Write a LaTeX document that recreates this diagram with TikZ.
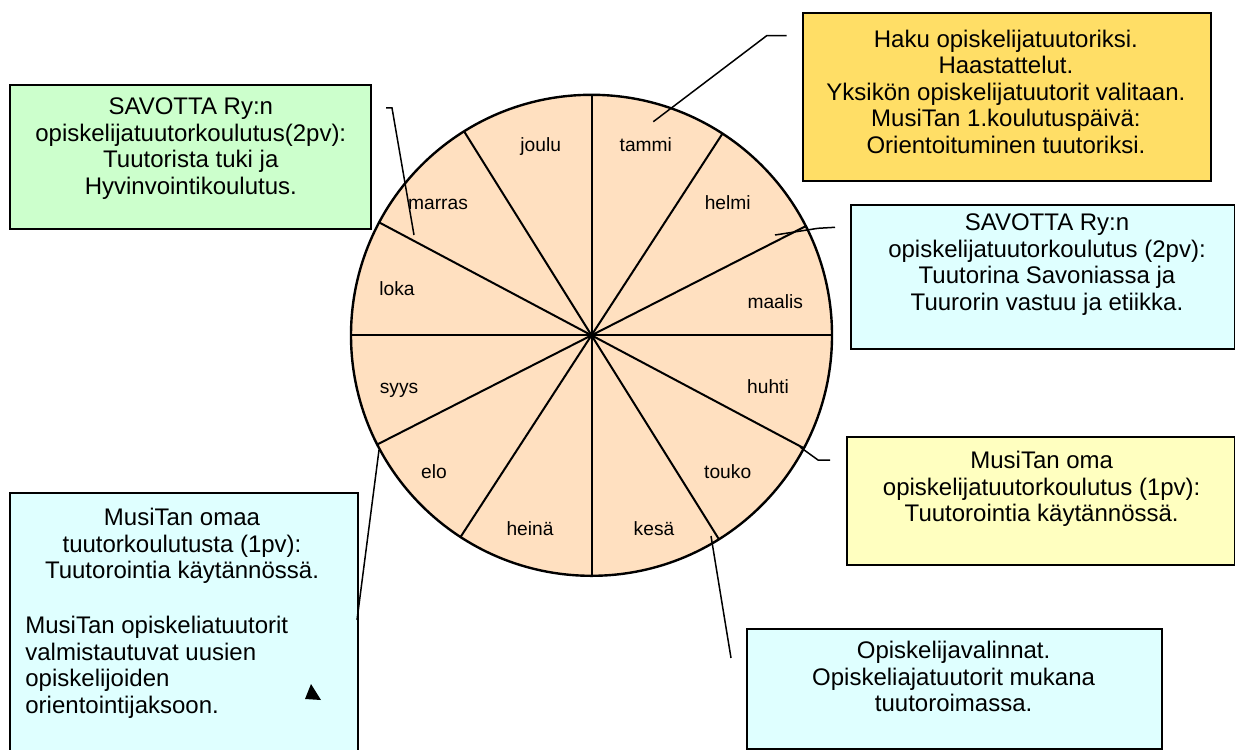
\documentclass[tikz,border=0pt]{standalone}
\usepackage{fontspec}
\setmainfont{Liberation Sans}
\definecolor{peach}{RGB}{255,224,192}
\definecolor{gold}{RGB}{255,222,102}
\definecolor{lightcyan}{RGB}{223,255,255}
\definecolor{lightgreen}{RGB}{204,255,204}
\definecolor{paleyellow}{RGB}{255,255,192}
\tikzset{
  month/.style={anchor=base, inner sep=0pt, font={\fontsize{9.6pt}{11pt}\selectfont}},
  infobox/.style={rectangle, draw, line width=1pt, anchor=north west, inner sep=0pt},
  infotext/.style={anchor=north, align=center, inner sep=0pt, font={\fontsize{12pt}{13.25pt}\selectfont}},
  leader/.style={line width=0.75pt}
}
\begin{document}
\begin{tikzpicture}[x=0.5pt, y=-0.5pt]
  \useasboundingbox (0,0) rectangle (1235,749);
  % Wheel
  \node (year) [circle, draw, line width=1.2pt, fill=peach, minimum size=240.5pt, inner sep=0pt, outer sep=0pt] at (591.5,335.3) {};
  \draw[line width=1pt] (year.90) -- (year.270);
  \draw[line width=1pt] (year.57.3) -- (year.237.3);
  \draw[line width=1pt] (year.27.9) -- (year.207.9);
  \draw[line width=1pt] (year.0) -- (year.180);
  \draw[line width=1pt] (year.152.1) -- (year.332.1);
  \draw[line width=1pt] (year.122.7) -- (year.302.7);
  % Months
  \node (joulu) [month] at (540.7,151.7) {joulu};
  \node (tammi) [month] at (645.8,151.7) {tammi};
  \node (helmi) [month] at (727.7,209) {helmi};
  \node (marras) [month] at (438,209) {marras};
  \node (loka) [month] at (397,295) {loka};
  \node (maalis) [month] at (775.3,308.3) {maalis};
  \node (syys) [month] at (399,393.3) {syys};
  \node (huhti) [month] at (768,393.3) {huhti};
  \node (elo) [month] at (434,478.3) {elo};
  \node (touko) [month] at (727.7,478.3) {touko};
  \node (heina) [month] at (530,535) {heinä};
  \node (kesa) [month] at (654,535) {kesä};
  % Boxes
  \node (haku) [infobox, fill=gold, minimum width=204.15pt, minimum height=83.85pt] at (801.7,12.3) {};
  \node (haku-text) [infotext] at (1005.9,29.5) {Haku opiskelijatuutoriksi.\\Haastattelut.\\Yksikön opiskelijatuutorit valitaan.\\MusiTan 1.koulutuspäivä:\\Orientoituminen tuutoriksi.};
  \node (savotta-kevat) [infobox, fill=lightcyan, minimum width=192pt, minimum height=72.15pt] at (850,204) {};
  \node (savotta-kevat-text) [infotext] at (1047,213.8) {SAVOTTA Ry:n\\opiskelijatuutorkoulutus (2pv):\\Tuutorina Savoniassa ja\\Tuurorin vastuu ja etiikka.};
  \node (musitan-oma) [infobox, fill=paleyellow, minimum width=194pt, minimum height=64pt] at (846,436) {};
  \node (musitan-oma-text) [infotext] at (1041.7,451) {MusiTan oma\\opiskelijatuutorkoulutus (1pv):\\Tuutorointia käytännössä.};
  \node (valinnat) [infobox, fill=lightcyan, minimum width=207.5pt, minimum height=60pt] at (746,628.3) {};
  \node (valinnat-text) [infotext] at (953.6,641) {Opiskelijavalinnat.\\Opiskeliajatuutorit mukana\\tuutoroimassa.};
  \node (musitan-omaa) [infobox, fill=lightcyan, minimum width=173.7pt, minimum height=138.85pt] at (9.3,492.3) {};
  \node (musitan-omaa-text) [infotext] at (182,507.8) {MusiTan omaa\\tuutorkoulutusta (1pv):\\Tuutorointia käytännössä.};
  \node (orientointi-text) [infotext, anchor=north west, align=left] at (25,615.8) {MusiTan opiskeliatuutorit\\valmistautuvat uusien\\opiskelijoiden\\orientointijaksoon.};
  \node (savotta-syksy) [infobox, fill=lightgreen, minimum width=180.35pt, minimum height=71.85pt] at (9.3,84) {};
  \node (savotta-syksy-text) [infotext] at (190.8,97.8) {SAVOTTA Ry:n\\opiskelijatuutorkoulutus(2pv):\\Tuutorista tuki ja\\Hyvinvointikoulutus.};
  \fill (311,684) -- (305,699) -- (321,700) -- cycle;
  % Lines
  \coordinate (tammi-pin) at (653.3,121.7);
  \coordinate (haku-knee) at (766.7,35.7);
  \coordinate (haku-end) at (786.7,35.7);
  \coordinate (maalis-pin) at (775,235);
  \coordinate (savotta-kevat-knee) at (818,228.3);
  \coordinate (savotta-kevat-end) at (835,227.3);
  \coordinate (touko-pin) at (800,447);
  \coordinate (musitan-oma-knee) at (818,460);
  \coordinate (musitan-oma-end) at (830,460);
  \coordinate (kesa-pin) at (711,536);
  \coordinate (valinnat-end) at (731,658);
  \coordinate (syys-pin) at (379,450);
  \coordinate (musitan-omaa-end) at (357,620);
  \coordinate (marras-pin) at (414,235);
  \coordinate (savotta-syksy-knee) at (392,108);
  \coordinate (savotta-syksy-end) at (386,108);
  \draw[leader] (tammi-pin) -- (haku-knee) -- (haku-end);
  \draw[leader] (maalis-pin) -- (savotta-kevat-knee) -- (savotta-kevat-end);
  \draw[leader] (touko-pin) -- (musitan-oma-knee) -- (musitan-oma-end);
  \draw[leader] (kesa-pin) -- (valinnat-end);
  \draw[leader] (syys-pin) -- (musitan-omaa-end);
  \draw[leader] (marras-pin) -- (savotta-syksy-knee) -- (savotta-syksy-end);
\end{tikzpicture}
\end{document}
